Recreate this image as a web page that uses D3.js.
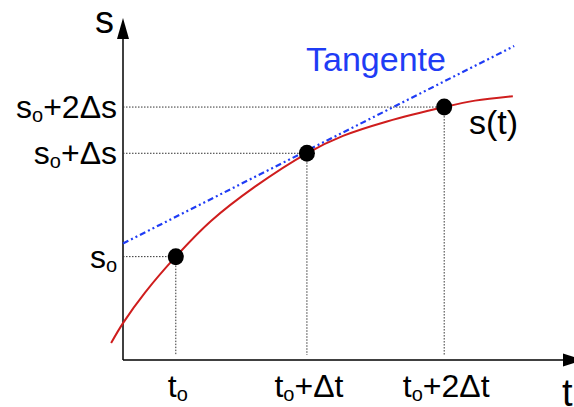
<!DOCTYPE html>
<html>
<head>
<meta charset="utf-8">
<script src="https://cdn.jsdelivr.net/npm/d3@7"></script>
<style>
  body { margin: 0; background: #fff; }
  text { font-family: "Liberation Sans", Arial, sans-serif; }
</style>
</head>
<body>
<svg class="chart"></svg>
<script>
const width = 574;
const height = 407;

// Data (abstract units)
const curveT = [-0.27, 0, 0.5, 1.2, 2.0, 3.0, 4.18, 5.0, 6.0, 7.3, 8.0, 8.86];
const curveS = [0.53, 1.15, 2.1, 3.22, 4.33, 5.4, 6.44, 6.98, 7.43, 7.88, 8.08, 8.22];

const tangentT = [0, 8.89];
const tangentS = [3.63, 9.78];

const markT = [1.2, 4.18, 7.3];
const markS = [3.22, 6.44, 7.88];

// tick labels: [base, subscript, rest]
const sLabels = [['s', 'o', ''], ['s', 'o', '+Δs'], ['s', 'o', '+2Δs']];
const tLabels = [['t', 'o', ''], ['t', 'o', '+Δt'], ['t', 'o', '+2Δt']];

const red = '#cf1d1d';
const blue = '#1f3cf5';

const svg = d3.select('.chart')
    .attr('width', width)
    .attr('height', height);

// Scales
const x = d3.scaleLinear().domain([0, 10]).range([123, 563]);
const y = d3.scaleLinear().domain([0, 10]).range([360, 39]);

// Axes with arrow heads
svg.append('line')
    .attr('x1', x(0)).attr('y1', y(0))
    .attr('x2', x(10)).attr('y2', y(0))
    .attr('stroke', '#000').attr('stroke-width', 1.5);

svg.append('line')
    .attr('x1', x(0)).attr('y1', y(0))
    .attr('x2', x(0)).attr('y2', y(10))
    .attr('stroke', '#000').attr('stroke-width', 1.5);

svg.append('path')
    .attr('d', `M${x(10)},${y(0) - 6.5}L${x(10) + 21},${y(0)}L${x(10)},${y(0) + 6.5}Z`)
    .attr('fill', '#000');

svg.append('path')
    .attr('d', `M${x(0) - 6},${y(10)}L${x(0)},${y(10) - 21}L${x(0) + 6},${y(10)}Z`)
    .attr('fill', '#000');

// Dotted guides
const guides = svg.append('g')
    .attr('stroke', '#333')
    .attr('stroke-width', 1)
    .attr('stroke-dasharray', '1.5,1.5');

markS.forEach((s, i) => {
    guides.append('line')
        .attr('x1', x(0)).attr('y1', y(s))
        .attr('x2', x(markT[i])).attr('y2', y(s));
    guides.append('line')
        .attr('x1', x(markT[i])).attr('y1', y(s))
        .attr('x2', x(markT[i])).attr('y2', y(0) - 5);
});

// Tangent
svg.append('line')
    .attr('x1', x(tangentT[0])).attr('y1', y(tangentS[0]))
    .attr('x2', x(tangentT[1])).attr('y2', y(tangentS[1]))
    .attr('stroke', blue)
    .attr('stroke-width', 2.2)
    .attr('stroke-dasharray', '6,3,2,3,2,3');

// s(t) curve
const line = d3.line()
    .x((d, i) => x(curveT[i]))
    .y(d => y(d))
    .curve(d3.curveCatmullRom);

svg.append('path')
    .attr('d', line(curveS))
    .attr('fill', 'none')
    .attr('stroke', red)
    .attr('stroke-width', 2);

// Points
svg.selectAll('.dot')
    .data(markS).enter().append('ellipse')
    .attr('class', 'dot')
    .attr('cx', (d, i) => x(markT[i]))
    .attr('cy', d => y(d))
    .attr('rx', 8)
    .attr('ry', 8.5)
    .attr('fill', '#000');

// Labels with subscript
function label(g, parts) {
    g.append('tspan').text(parts[0]);
    g.append('tspan').attr('font-size', 20).attr('dy', 4).text(parts[1]);
    if (parts[2]) g.append('tspan').attr('dy', -4).text(parts[2]);
}

sLabels.forEach((p, i) => {
    const t = svg.append('text')
        .attr('x', 117)
        .attr('y', y(markS[i]) + 11)
        .attr('text-anchor', 'end')
        .attr('font-size', 32);
    label(t, p);
});

tLabels.forEach((p, i) => {
    const t = svg.append('text')
        .attr('x', x(markT[i]) + 2)
        .attr('y', 397)
        .attr('text-anchor', 'middle')
        .attr('font-size', 32);
    label(t, p);
});

// Axis titles
svg.append('text')
    .attr('x', 114).attr('y', 33)
    .attr('text-anchor', 'end')
    .attr('font-size', 38)
    .text('s');

svg.append('text')
    .attr('x', 562).attr('y', 406)
    .attr('font-size', 38)
    .text('t');

svg.append('text')
    .attr('x', 306).attr('y', 71)
    .attr('font-size', 34)
    .attr('fill', blue)
    .text('Tangente');

svg.append('text')
    .attr('x', 469).attr('y', 134)
    .attr('font-size', 34)
    .text('s(t)');
</script>
</body>
</html>
